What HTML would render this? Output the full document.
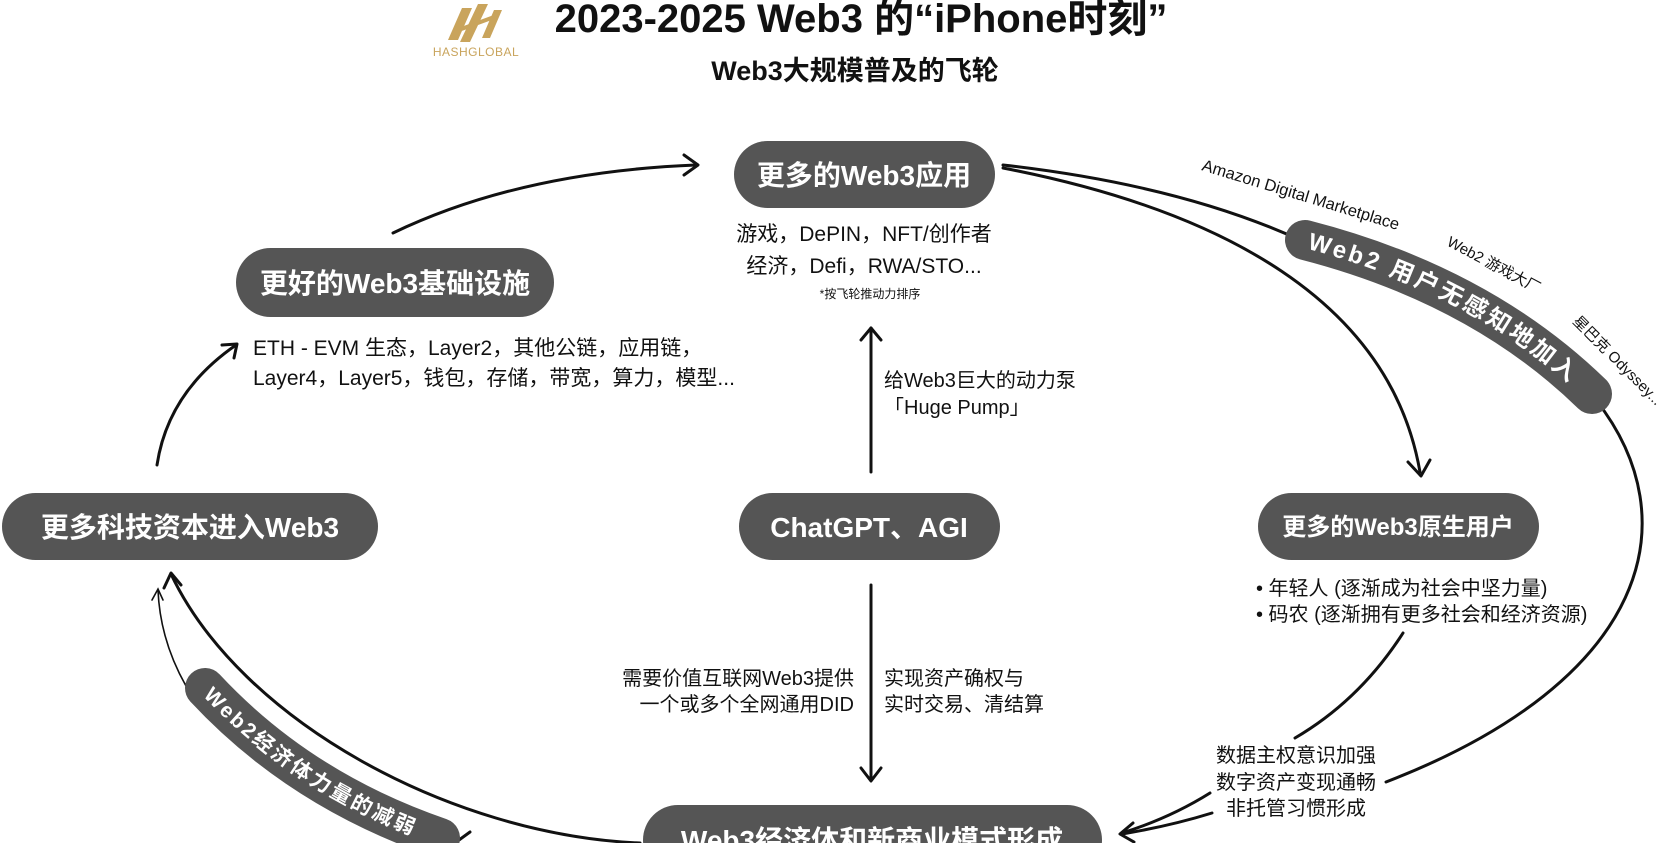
<!DOCTYPE html>
<html><head><meta charset="utf-8"><style>
html,body{margin:0;padding:0;background:#fff;}
svg{display:block;}
text{font-family:"Liberation Sans","Noto Sans CJK SC",sans-serif;}
</style></head><body>
<svg width="1680" height="843" viewBox="0 0 1680 843" xmlns="http://www.w3.org/2000/svg">
<defs>
<path id="p1" d="M1305,240 Q1480,285 1592,394"/>
<path id="p2" d="M205,688 Q300,790 440,838"/>
</defs>
<!-- logo -->
<g fill="#c9a45c">
<polygon points="462,8 472,8 458,40 448,40"/>
<polygon points="478,4 488,4 470,42 460,42"/>
<polygon points="494,10 502,10 490,38 482,38"/>
<rect x="455" y="22" width="40" height="4" transform="rotate(-20 475 24)"/>
</g>
<text x="476" y="56" font-size="12" fill="#c9a45c" text-anchor="middle" letter-spacing="0.5">HASHGLOBAL</text>
<!-- titles -->
<text x="861" y="32" font-size="40" font-weight="bold" text-anchor="middle" fill="#111">2023-2025 Web3 的“iPhone时刻”</text>
<text x="855" y="80" font-size="27" font-weight="bold" text-anchor="middle" fill="#111">Web3大规模普及的飞轮</text>

<g fill="none" stroke="#111" stroke-width="3" stroke-linecap="round" stroke-linejoin="round">
<path d="M393,233 Q520,172 696,165"/>
<path d="M684,155 L698,165 L684,175"/>
<path d="M157,465 Q168,392 236,345"/>
<path d="M222,345 L237,344 L234,358"/>
<path d="M1003,165 Q1180,185 1300,240"/>
<path d="M1596,400 C1690,520 1650,680 1386,782"/>
<path d="M1003,168 C1220,210 1390,300 1420,472"/>
<path d="M1408,462 L1421,476 L1430,460"/>
<path d="M1403,633 Q1360,700 1295,738"/>
<path d="M1210,793 Q1170,818 1122,833"/>
<path d="M1212,813 Q1170,826 1122,834"/>
<path d="M1133,823 L1120,834 L1134,842"/>
<path d="M871,472 L871,328"/>
<path d="M861,340 L871,328 L881,340"/>
<path d="M871,585 L871,780"/>
<path d="M861,768 L871,781 L881,768"/>
<path d="M640,843 C450,835 240,720 171,574"/>
<path d="M164,588 L171,573 L181,585"/>
<path d="M470,832 L459,840"/>
</g>
<g fill="none" stroke="#111" stroke-width="1.6" stroke-linecap="round">
<path d="M186,686 Q160,640 158,590"/>
<path d="M152,600 L158,589 L163,600"/>
</g>

<use href="#p1" fill="none" stroke="#555" stroke-width="40" stroke-linecap="round"/>
<text font-size="24" font-weight="bold" fill="#fff" dy="8"><textPath href="#p1" textLength="300" lengthAdjust="spacing" startOffset="4">Web2 用户无感知地加入</textPath></text>
<use href="#p2" fill="none" stroke="#555" stroke-width="40" stroke-linecap="round"/>
<text font-size="21" font-weight="bold" fill="#fff" dy="7"><textPath href="#p2" textLength="250" lengthAdjust="spacing" startOffset="4">Web2经济体力量的减弱</textPath></text>

<text transform="translate(1201,170) rotate(17)" font-size="16.5" fill="#111">Amazon Digital Marketplace</text>
<text transform="translate(1446,245) rotate(28)" font-size="15" fill="#111">Web2 游戏大厂</text>
<text transform="translate(1572,322) rotate(45)" font-size="15" fill="#111">星巴克 Odyssey...</text>

<g fill="#555">
<rect x="236" y="248" width="318" height="69" rx="34.5"/>
<rect x="734" y="141" width="261" height="67" rx="33.5"/>
<rect x="2" y="493" width="376" height="67" rx="33.5"/>
<rect x="739" y="493" width="261" height="67" rx="33.5"/>
<rect x="1258" y="493" width="281" height="67" rx="33.5"/>
<rect x="643" y="805" width="459" height="70" rx="35"/>
</g>
<g fill="#fff" font-weight="bold" text-anchor="middle">
<text x="395" y="293" font-size="28">更好的Web3基础设施</text>
<text x="864" y="185" font-size="28">更多的Web3应用</text>
<text x="190" y="537" font-size="28">更多科技资本进入Web3</text>
<text x="869" y="537" font-size="28">ChatGPT、AGI</text>
<text x="1398" y="535" font-size="24">更多的Web3原生用户</text>
<text x="872" y="850" font-size="28">Web3经济体和新商业模式形成</text>
</g>

<g fill="#111" font-size="20">
<text x="253" y="355" font-size="21">ETH - EVM 生态，Layer2，其他公链，应用链，</text>
<text x="253" y="385" font-size="21">Layer4，Layer5，钱包，存储，带宽，算力，模型...</text>
<text x="864" y="241" text-anchor="middle" font-size="21">游戏，DePIN，NFT/创作者</text>
<text x="864" y="273" text-anchor="middle" font-size="21">经济，Defi，RWA/STO...</text>
<text x="870" y="298" text-anchor="middle" font-size="12">*按飞轮推动力排序</text>
<text x="884" y="387">给Web3巨大的动力泵</text>
<text x="884" y="414">「Huge Pump」</text>
<text x="884" y="685">实现资产确权与</text>
<text x="884" y="711">实时交易、清结算</text>
<text x="854" y="685" text-anchor="end">需要价值互联网Web3提供</text>
<text x="854" y="711" text-anchor="end">一个或多个全网通用DID</text>
<text x="1256" y="595">•  年轻人 (逐渐成为社会中坚力量)</text>
<text x="1256" y="621">•  码农 (逐渐拥有更多社会和经济资源)</text>
<text x="1296" y="762" text-anchor="middle">数据主权意识加强</text>
<text x="1296" y="789" text-anchor="middle">数字资产变现通畅</text>
<text x="1296" y="815" text-anchor="middle">非托管习惯形成</text>
</g>
</svg>
</body></html>
